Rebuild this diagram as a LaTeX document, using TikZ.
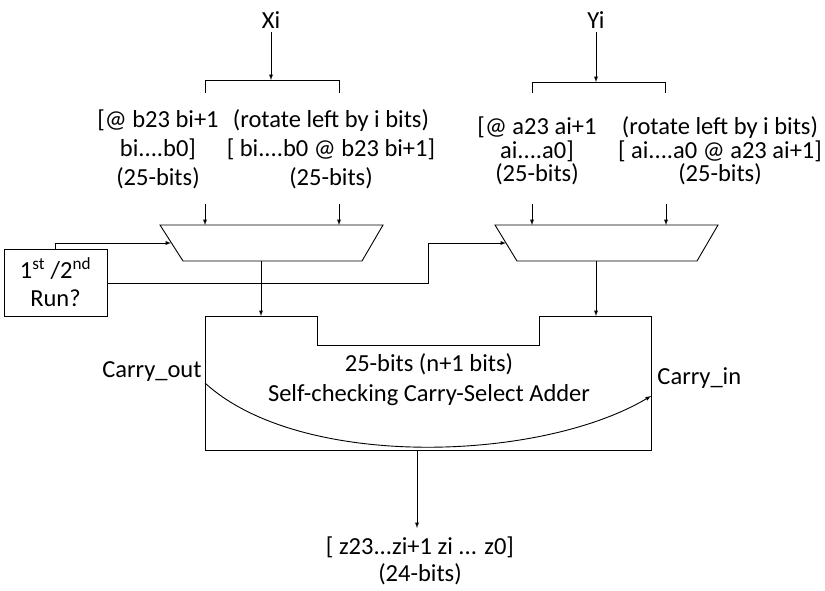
\documentclass[tikz,border=0pt]{standalone}
\usepackage{fontspec}
\setmainfont{Carlito}
\usepackage{tikz}

\begin{document}
\begin{tikzpicture}[x=1pt,y=-1pt,>=latex,line width=0.9pt,font=\fontsize{24.5}{28}\selectfont]
\useasboundingbox (0,0) rectangle (825,590);
% inputs
\node[] at (271,20) (Xi) {Xi};
\node[] at (596,20) (Yi) {Yi};
\draw[->] (Xi) -- (271,80);
\draw (205,93) -- (205,80) -- (339,80) -- (339,93);
\draw[->] (Yi) -- (596,82);
\draw (532,93) -- (532,82) -- (665,82) -- (665,93);
\node[align=center, inner sep=0pt, font=\fontsize{24.5}{29}\selectfont] at (158,149) (XL) {[@ b23 bi+1\\bi....b0]\\(25-bits)};
\node[align=center, inner sep=0pt, font=\fontsize{24.5}{29}\selectfont] at (331,149) (XR) {(rotate left by i bits)\\{}[ bi....b0 @ b23 bi+1]\\(25-bits)};
\node[align=center, inner sep=0pt, font=\fontsize{24.5}{23.5}\selectfont] at (537,151) (YL) {[@ a23 ai+1\\ai....a0]\\(25-bits)};
\node[align=center, inner sep=0pt, font=\fontsize{24.5}{23.5}\selectfont] at (720,151) (YR) {(rotate left by i bits)\\{}[ ai....a0 @ a23 ai+1]\\(25-bits)};
% multiplexers
\draw (160,225) -- (383,225) -- (362,261) -- (183,261) -- cycle;
\draw (495,225) -- (718,225) -- (697,261) -- (517,261) -- cycle;
\coordinate (muxXa) at (205,225);
\coordinate (muxXb) at (339,225);
\coordinate (muxXs) at (171,243);
\coordinate (muxXo) at (261,261);
\coordinate (muxYa) at (532,225);
\coordinate (muxYb) at (666,225);
\coordinate (muxYs) at (506,243);
\coordinate (muxYo) at (596,261);
\draw[->] (205,204) -- (muxXa);
\draw[->] (339,204) -- (muxXb);
\draw[->] (532,204) -- (muxYa);
\draw[->] (666,204) -- (muxYb);
% select
\node[shape=rectangle, draw=black, align=center, minimum width=103, minimum height=67, inner sep=0pt, font=\fontsize{24.5}{28}\selectfont] at (55.5,282.5) (run) {1\textsuperscript{st} /2\textsuperscript{nd}\\Run?};
\draw[->] (run.north) |- (muxXs);
\draw[->] (run.east |- 0,283) -- (428,283) |- (muxYs);
% adder
\draw (205,316) -- (317,316) -- (317,345) -- (539,345) -- (539,316) -- (651,316) -- (651,450) -- (205,450) -- cycle;
\coordinate (addXa) at (261,316);
\coordinate (addYa) at (596,316);
\coordinate (cout) at (205,383);
\coordinate (cin) at (651,396);
\coordinate (addO) at (417,450);
\draw[->] (muxXo) -- (addXa);
\draw[->] (muxYo) -- (addYa);
\node[align=center, inner sep=0pt, font=\fontsize{24.5}{30}\selectfont] at (429,380) (adder) {25-bits (n+1 bits)\\Self-checking Carry-Select Adder};
\draw[->] (cout) .. controls (300,470) and (540,462) .. (cin);
\node[anchor=east, inner sep=1pt] at (203,372) (co) {Carry\_out};
\node[anchor=west, inner sep=1pt] at (656,378) (ci) {Carry\_in};
% output
\node[align=center, inner sep=0pt, font=\fontsize{24.5}{27}\selectfont] at (420,561) (out) {[ z23...zi+1 zi ... z0]\\(24-bits)};
\draw[->] (addO) -- (417,528);
\end{tikzpicture}
\end{document}
